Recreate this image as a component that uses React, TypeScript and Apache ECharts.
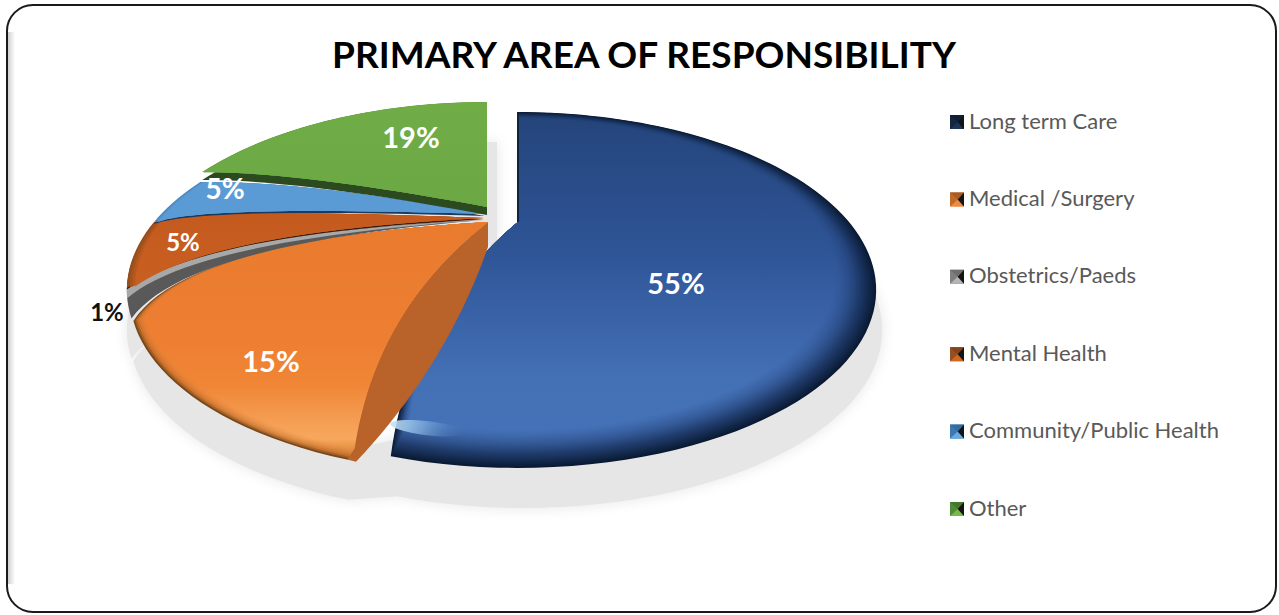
import React, { useEffect, useRef } from "react";
import * as echarts from "echarts";

const categories = ["Long term Care", "Medical /Surgery", "Obstetrics/Paeds", "Mental Health", "Community/Public Health", "Other"];
const shares = [55, 15, 1, 5, 5, 19];
const labels = ["55%", "15%", "1%", "5%", "5%", "19%"];
const titleText = "PRIMARY AREA OF RESPONSIBILITY";

// perspective of the pie plane
const P = 0.382, AX = 331, BY = 152;
// per-boundary display shift, degrees (bevel distortion of the 3D view)
const edgeShift = [0, -4, -11.7, -7.5, -3.6, -4.6, 0];
const startExtra = [0, 1.5, -1, 0, 0, 0];
const origins = [[518, 222], [488, 228], [485, 222], [485, 222], [485, 222], [487, 212]];
const tips = [[518, 222], [488, 222], [484, 220], [484, 218], [485, 214], [487, 207]];
const startBend = [[0, 0], [-47, -27], [-122, -25], [-100, -21], [-120, -13], [-47, -18]];
const endBend = [[-45, -25], [-125, -31], [-100, -21], [-120, -13], [-47, -18], [0, 0]];
const greyLightBend = [-111, -19];
const sideDrop = [0, 0, 0, 1.5, 2, 8];
const sideColor = ["", "", "", "#3a1c0a", "#1d3a5c", "#2b4a1f"];
const shadowShift = [[6, 40], [0, 40], [0, 40], [0, 40], [8, 40], [10, 40]];
const bodies: [number, string][][] = [
  [[0, "#24447a"], [0.4, "#2f5597"], [0.75, "#4470b6"], [1, "#4472b8"]],
  [[0, "#e97b2e"], [0.5, "#ee7f32"], [0.68, "#f08636"], [0.84, "#f5a056"], [0.9, "#f7a85c"], [0.96, "#dc8638"], [1, "#a9642a"]],
  [[0, "#a5a5a5"], [1, "#a9a9a9"]],
  [[0, "#c55a1f"], [1, "#c9601f"]],
  [[0, "#5b9bd5"], [1, "#5b9bd5"]],
  [[0, "#70ad47"], [1, "#6ba743"]],
];
const gradY = [[112, 468], [222, 463], [220, 320], [215, 300], [170, 230], [102, 215]];
const rims: { depth: number; stops: [number, string, number][] }[] = [
  { depth: 0.1, stops: [[0, "#0a1a33", 1], [0.35, "#12284f", 0.72], [1, "#2a4d8a", 0]] },
  { depth: 0.03, stops: [[0, "#7a4818", 1], [0.3, "#b96a2a", 0.6], [1, "#ee8a3e", 0]] },
  { depth: 0.012, stops: [[0, "#5a5a5a", 0.8], [1, "#5a5a5a", 0]] },
  { depth: 0.02, stops: [[0, "#8a4a1c", 0.8], [1, "#8a4a1c", 0]] },
  { depth: 0.012, stops: [[0, "#3f78b0", 0.6], [1, "#3f78b0", 0]] },
  { depth: 0.006, stops: [[0, "#5c9238", 0.6], [1, "#5c9238", 0]] },
];
const labelPos = [[676, 282], [271, 360], [107, 311], [183, 241], [225, 188], [411, 136]];
const labelSize = [29, 29, 24, 24, 28, 29];
const labelColor = ["#ffffff", "#ffffff", "#111111", "#ffffff", "#ffffff", "#ffffff"];

const legendLeft = ["#16263f", "#c06a2a", "#7f7f7f", "#96501f", "#3c79b2", "#4f8a35"];
const legendTop = ["#0f1f38", "#a85b27", "#6e6e6e", "#84441b", "#356ca0", "#43782c"];
const legendBottom = ["#1d3357", "#f08a3c", "#b5b5b5", "#d0661f", "#6aa9e0", "#78b84c"];
const legendY0 = 115, legendStep = 77.4, legendX = 950, legendIcon = 14, legendLine = 26, legendTextLift = 2;

const cumulative: number[] = [0];
shares.forEach((v) => cumulative.push(cumulative[cumulative.length - 1] + v));
const total = cumulative[cumulative.length - 1];
const boundary = (i: number) => (cumulative[i] / total) * 360 + edgeShift[i];

const project = (o: number[], deg: number, r: number) => {
  const a = (deg * Math.PI) / 180;
  const u = r * Math.sin(a), w = -r * Math.cos(a);
  const d = 1 - P * w;
  return [o[0] + (AX * u) / d, o[1] + (BY * w) / d];
};
const quad = (a: number[], c: number[], b: number[], t: number) => [
  (1 - t) * (1 - t) * a[0] + 2 * t * (1 - t) * c[0] + t * t * b[0],
  (1 - t) * (1 - t) * a[1] + 2 * t * (1 - t) * c[1] + t * t * b[1],
];
const control = (a: number[], b: number[], bend: number[], r: number) => [
  (a[0] + b[0]) / 2 + bend[0] * r,
  (a[1] + b[1]) / 2 + bend[1] * r,
];
const slicePoints = (i: number, r: number, a1 = boundary(i) + startExtra[i], a2 = boundary(i + 1), sb = startBend[i]) => {
  const o = origins[i], tip = tips[i];
  const p1 = project(o, a1, r), p2 = project(o, a2, r);
  const c1 = control(tip, p1, sb, r), c2 = control(tip, p2, endBend[i], r);
  const pts: number[][] = [];
  for (let k = 0; k <= 24; k++) pts.push(quad(tip, c1, p1, k / 24));
  const n = Math.max(2, Math.ceil((a2 - a1) / 2));
  for (let k = 1; k < n; k++) pts.push(project(o, a1 + ((a2 - a1) * k) / n, r));
  for (let k = 24; k >= 0; k--) pts.push(quad(tip, c2, p2, k / 24));
  return pts;
};

const hex = (c: string) => [1, 3, 5].map((k) => parseInt(c.slice(k, k + 2), 16));
const mix = (a: string, b: string, t: number) => {
  const x = hex(a), y = hex(b);
  return "#" + x.map((v, k) => Math.round(v + (y[k] - v) * t).toString(16).padStart(2, "0")).join("");
};
const rimAt = (i: number, s: number): [string, number] => {
  const st = rims[i].stops;
  for (let k = 1; k < st.length; k++) {
    if (s <= st[k][0]) {
      const t = (s - st[k - 1][0]) / (st[k][0] - st[k - 1][0] || 1);
      return [mix(st[k - 1][1], st[k][1], t), st[k - 1][2] + (st[k][2] - st[k - 1][2]) * t];
    }
  }
  const l = st[st.length - 1];
  return [l[1], l[2]];
};
const fillFor = (i: number, s: number) => {
  const [c, a] = rimAt(i, s);
  return {
    type: "linear", global: true, x: 0, y: gradY[i][0], x2: 0, y2: gradY[i][1],
    colorStops: bodies[i].map(([o, col]) => ({ offset: o, color: mix(col, c, a) })),
  };
};

const renderSlice = (i: number) => () => {
  const children: any[] = [];
  if (sideDrop[i]) {
    children.push({
      type: "polygon",
      shape: { points: slicePoints(i, 1).map((p) => [p[0], p[1] + sideDrop[i]]) },
      style: { fill: sideColor[i] },
    });
  }
  if (i === 1) {
    // cut face of the medical slice
    const tip = tips[1];
    const end = project(origins[1], boundary(1) + startExtra[1], 1);
    const from = [tip[0], tip[1] + 25];
    const to = [end[0] + 8, end[1] + 2];
    const c = [(from[0] + to[0]) / 2 + 24, (from[1] + to[1]) / 2 + 12];
    const pts: number[][] = [tip];
    for (let k = 0; k <= 20; k++) pts.push(quad(from, c, to, k / 20));
    const cE = control(tip, end, startBend[1], 1);
    for (let k = 14; k >= 0; k--) pts.push(quad(tip, cE, end, k / 14));
    children.push({ type: "polygon", shape: { points: pts }, style: { fill: "#b9622a" } });
  }
  if (i === 2) {
    // dark cut face below the light band
    children.push({ type: "polygon", shape: { points: slicePoints(i, 1) }, style: { fill: "#595959" } });
    children.push({
      type: "polygon",
      shape: { points: slicePoints(i, 1, boundary(i) + 4.8, boundary(i + 1), greyLightBend) },
      style: { fill: "#a8a8a8" },
    });
  } else {
    const N = rims[i].depth > 0.05 ? 22 : i === 1 ? 8 : 4;
    for (let k = 0; k < N; k++) {
      const s = k / (N - 1);
      children.push({
        type: "polygon",
        shape: { points: slicePoints(i, 1 - rims[i].depth * s) },
        style: { fill: fillFor(i, s) },
      });
    }
  }
  if (i === 0) {
    const top = project(origins[0], 0, 1);
    children.push({
      type: "polyline",
      shape: { points: [top, tips[0]] },
      style: { stroke: "#12233f", lineWidth: 2, fill: "none" },
    });
    children.push({
      type: "ellipse",
      shape: { cx: 428, cy: 428, rx: 38, ry: 7 },
      rotation: -0.12,
      originX: 428,
      originY: 428,
      style: {
        fill: {
          type: "linear", x: 0, y: 0, x2: 1, y2: 0,
          colorStops: [
            { offset: 0, color: "rgba(196,230,250,0.95)" },
            { offset: 0.45, color: "rgba(150,195,235,0.55)" },
            { offset: 1, color: "rgba(68,114,184,0)" },
          ],
        },
      },
    });
  }
  children.push({
    type: "text",
    z2: 100,
    style: {
      x: labelPos[i][0], y: labelPos[i][1], text: labels[i],
      fill: labelColor[i], font: `bold ${labelSize[i]}px Lato`,
      align: "center", verticalAlign: "middle",
    },
  });
  return { type: "group", children };
};

const shadowStyle = { fill: "#e6e6e6", shadowBlur: 14, shadowColor: "#e6e6e6" };
const renderShadow = () => {
  const blueEnd = project(origins[0], boundary(1), 1);
  const orangeEnd = project(origins[1], boundary(1) + startExtra[1], 1);
  return {
    type: "group",
    children: [
      ...shares.map((_, i) => ({
        type: "polygon",
        shape: { points: slicePoints(i, 1).map((p) => [p[0] + shadowShift[i][0], p[1] + shadowShift[i][1]]) },
        style: shadowStyle,
      })),
      {
        type: "polygon",
        shape: {
          points: [
            [orangeEnd[0] + shadowShift[1][0], orangeEnd[1] + shadowShift[1][1]],
            [blueEnd[0] + shadowShift[0][0], blueEnd[1] + shadowShift[0][1]],
            [blueEnd[0] + 20, blueEnd[1] - 20],
            [orangeEnd[0], orangeEnd[1] - 10],
          ],
        },
        style: shadowStyle,
      },
    ],
  };
};

const legendOverlay = categories.flatMap((_, i) => {
  const y = legendY0 + i * legendStep, x = legendX, s = legendIcon, c = [x + s * 0.55, y + s / 2];
  return [
    { type: "rect", z: 20, shape: { x, y, width: s, height: s }, style: { fill: legendLeft[i] } },
    { type: "polygon", z: 20, shape: { points: [[x, y], [x + s, y], c] }, style: { fill: legendTop[i] } },
    { type: "polygon", z: 20, shape: { points: [[x, y + s], [x + s, y + s], c] }, style: { fill: legendBottom[i] } },
    { type: "polygon", z: 20, shape: { points: [[x + s, y], [x + s, y + s], c] }, style: { fill: "#141414" } },
  ];
});

export default function App() {
  const ref = useRef<HTMLDivElement>(null);
  useEffect(() => {
    document.body.style.margin = "0";
    document.body.style.overflow = "hidden";
    const chart = echarts.init(ref.current!, undefined, { renderer: "svg" });
    chart.setOption({
      animation: false,
      backgroundColor: "#ffffff",
      title: {
        text: titleText,
        left: 639,
        top: 30,
        textAlign: "center",
        textStyle: { fontFamily: "Lato", fontWeight: "bold", fontSize: 37, color: "#000000" },
      },
      legend: {
        orient: "vertical",
        left: legendX,
        top: legendY0 + legendIcon / 2 - legendLine / 2 - legendTextLift,
        padding: 0,
        itemWidth: legendIcon,
        itemHeight: legendIcon,
        itemGap: legendStep - legendLine,
        selectedMode: false,
        textStyle: { fontFamily: "Lato", fontSize: 22, color: "#595959", height: legendLine, lineHeight: legendLine },
        data: categories.map((name, i) => ({ name, icon: "rect", itemStyle: { color: legendLeft[i], opacity: 0 } })),
      },
      graphic: [
        {
          type: "rect", z: -2,
          shape: { x: 7, y: 5, width: 1269, height: 607, r: 26 },
          style: { fill: "#ffffff", stroke: "#1a1a1a", lineWidth: 2 },
        },
        {
          type: "rect", z: -1,
          shape: { x: 8, y: 32, width: 7, height: 552 },
          style: {
            fill: {
              type: "linear", x: 0, y: 0, x2: 1, y2: 0,
              colorStops: [{ offset: 0, color: "#d0d0d0" }, { offset: 1, color: "#ffffff" }],
            },
          },
        },
        ...legendOverlay,
      ],
      series: [
        { type: "custom", name: "shadow", coordinateSystem: "none", silent: true, clip: false, data: [[0]], renderItem: renderShadow },
        ...categories.map((name, i) => ({
          type: "custom",
          name,
          coordinateSystem: "none",
          silent: true,
          clip: false,
          itemStyle: { color: legendLeft[i] },
          data: [[shares[i]]],
          renderItem: renderSlice(i),
        })),
      ],
    });
    return () => chart.dispose();
  }, []);
  return <div ref={ref} style={{ width: 1279, height: 615 }} />;
}
